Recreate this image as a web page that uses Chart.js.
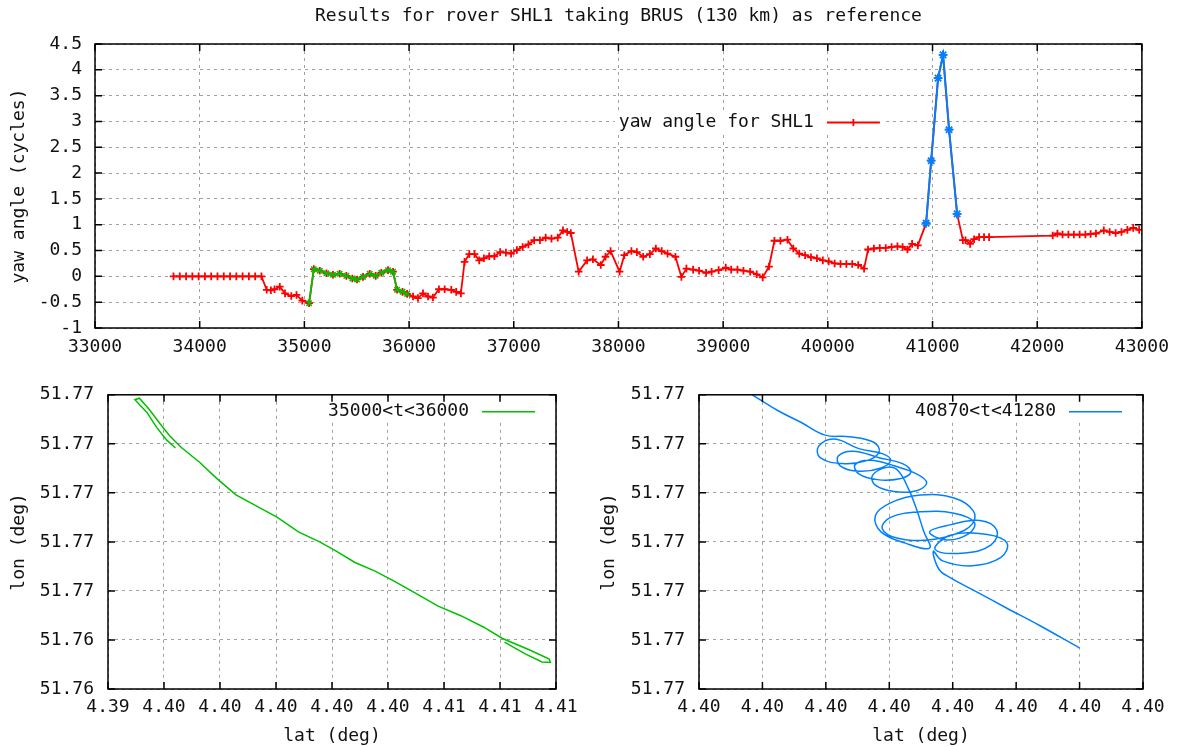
<!DOCTYPE html>
<html>
<head>
<meta charset="utf-8">
<title>yaw angle SHL1</title>
<script src="https://cdn.jsdelivr.net/npm/chart.js@4.4.1/dist/chart.umd.min.js"></script>
<style>
  html, body { margin: 0; padding: 0; background: #fff; }
  body { width: 1178px; height: 747px; position: relative; overflow: hidden; }
  canvas { position: absolute; }
  #yaw { left: 0; top: 0; }
  #trackA { left: 0; top: 370px; }
  #trackB { left: 590px; top: 370px; }
</style>
</head>
<body>
<canvas id="yaw" width="1178" height="370"></canvas>
<canvas id="trackA" width="590" height="377"></canvas>
<canvas id="trackB" width="588" height="377"></canvas>
<script>
// yaw angle of SHL1 (cycles) against time (s)
const yawTime = [
  33750, 33810, 33870, 33930, 33990, 34050, 34110, 34170, 34230, 34290, 34350, 34410, 34470, 34530, 34590,
  34640, 34680, 34715, 34765, 34815, 34875, 34925, 34980, 35045,
  35090, 35147, 35211, 35273, 35337, 35401, 35458, 35503, 35560, 35624, 35681, 35735, 35799, 35847, 35885, 35937, 35981,
  36038, 36085, 36133, 36181, 36228, 36285, 36340, 36403, 36450, 36495,
  36530, 36575, 36625, 36670, 36715, 36765, 36815, 36870, 36925, 36975, 37030, 37085, 37140, 37195, 37250, 37305, 37360, 37420, 37470, 37510, 37545,
  37620, 37700, 37756, 37831, 37876, 37925, 38011, 38056, 38124, 38176, 38236, 38300, 38357, 38413, 38469, 38544,
  38601, 38649, 38713, 38770, 38837, 38890, 38957, 39025, 39077, 39137, 39194, 39258, 39321, 39378, 39438,
  39490, 39547, 39614, 39670, 39727, 39783, 39839, 39896, 39952, 40008, 40065, 40121, 40177, 40233, 40290, 40346,
  40384, 40440, 40496, 40553, 40609, 40665, 40714, 40760, 40805, 40860,
  40939, 40987, 41053, 41101, 41158, 41235,
  41290, 41315, 41359, 41397, 41445, 41492, 41540,
  42148, 42193, 42242, 42298, 42350, 42405, 42460, 42510, 42561, 42636, 42692, 42749, 42805, 42861, 42917, 42974
];
const yawCycles = [
  0, 0, 0, 0, 0, 0, 0, 0, 0, 0, 0, 0, 0, 0, 0,
  -0.26, -0.27, -0.25, -0.20, -0.33, -0.38, -0.36, -0.47, -0.52,
  0.14, 0.11, 0.06, 0.03, 0.05, 0.01, -0.04, -0.06, -0.01, 0.05, 0.01, 0.07, 0.12, 0.09, -0.26, -0.30, -0.34,
  -0.39, -0.42, -0.33, -0.39, -0.41, -0.25, -0.25, -0.26, -0.30, -0.33,
  0.28, 0.43, 0.43, 0.31, 0.35, 0.39, 0.39, 0.47, 0.46, 0.44, 0.51, 0.57, 0.62, 0.70, 0.70, 0.75, 0.73, 0.75, 0.89, 0.86, 0.84,
  0.09, 0.31, 0.33, 0.22, 0.38, 0.49, 0.09, 0.41, 0.49, 0.47, 0.38, 0.43, 0.54, 0.49, 0.44, 0.38,
  -0.01, 0.15, 0.13, 0.11, 0.07, 0.09, 0.12, 0.17, 0.13, 0.13, 0.11, 0.09, 0.04, -0.02, 0.19,
  0.69, 0.69, 0.71, 0.54, 0.44, 0.41, 0.37, 0.35, 0.31, 0.29, 0.25, 0.24, 0.24, 0.24, 0.22, 0.15,
  0.52, 0.54, 0.55, 0.55, 0.57, 0.58, 0.57, 0.52, 0.63, 0.60,
  1.03, 2.24, 3.84, 4.29, 2.84, 1.21,
  0.70, 0.70, 0.63, 0.72, 0.76, 0.76, 0.76,
  0.79, 0.83, 0.81, 0.81, 0.81, 0.81, 0.81, 0.82, 0.83, 0.89, 0.86, 0.84, 0.86, 0.90, 0.94, 0.90
];

// time windows highlighted above and plotted below
const greenWindow = [35000, 36000];
const blueWindow = [40870, 41280];

// track for 35000<t<36000
const latA = [
  4.39641, 4.39609, 4.39573, 4.39539, 4.39496, 4.39512, 4.39549, 4.39586, 4.39620, 4.39661,
  4.39728, 4.39789, 4.39857, 4.39931, 4.40005, 4.40080, 4.40154, 4.40215, 4.40282, 4.40350,
  4.40417, 4.40498, 4.40579, 4.40660, 4.40742, 4.40809, 4.40904, 4.40976, 4.40980, 4.40950,
  4.40890, 4.40816
];
const lonA = [
  51.77183, 51.77216, 51.77268, 51.77328, 51.77380, 51.77386, 51.77338, 51.77282, 51.77233, 51.77186,
  51.77124, 51.77058, 51.76992, 51.76946, 51.76900, 51.76841, 51.76801, 51.76762, 51.76716, 51.76683,
  51.76643, 51.76591, 51.76538, 51.76499, 51.76452, 51.76406, 51.76360, 51.76322, 51.76308, 51.76310,
  51.76343, 51.76391
];

// track for 40870<t<41280
const latB = [
  4.399768, 4.399851, 4.399921, 4.399998, 4.400074, 4.400151, 4.400168, 4.400127, 4.400051, 4.399982, 4.399977, 4.400027,
  4.400104, 4.400180, 4.400204, 4.400174, 4.400104, 4.400045, 4.400039, 4.400086,
  4.400168, 4.400245, 4.400268, 4.400233, 4.400162, 4.400104, 4.400092, 4.400139,
  4.400215, 4.400286, 4.400318, 4.400286, 4.400215, 4.400156, 4.400147, 4.400192,
  4.400227, 4.400262, 4.400286, 4.400309, 4.400327,
  4.400251, 4.400174, 4.400156, 4.400204, 4.400298, 4.400404, 4.400465, 4.400462, 4.400404,
  4.400321, 4.400227, 4.400178, 4.400204, 4.400298, 4.400404, 4.400468, 4.400451, 4.400380,
  4.400327, 4.400392, 4.400486, 4.400539, 4.400521, 4.400439, 4.400345,
  4.400392, 4.400509, 4.400571, 4.400551, 4.400462, 4.400368, 4.400339,
  4.400356, 4.400392, 4.400474, 4.400568, 4.400674, 4.400800
];
const lonB = [
  51.770400, 51.770268, 51.770176, 51.770071, 51.770058, 51.770013, 51.769934, 51.769861, 51.769839, 51.769887, 51.769979, 51.770040,
  51.769961, 51.769918, 51.769866, 51.769803, 51.769776, 51.769821, 51.769900, 51.769940,
  51.769887, 51.769834, 51.769768, 51.769716, 51.769708, 51.769755, 51.769829, 51.769866,
  51.769821, 51.769755, 51.769682, 51.769618, 51.769611, 51.769663, 51.769742, 51.769808,
  51.769782, 51.769624, 51.769466, 51.769282, 51.769150,
  51.769190, 51.769282, 51.769413, 51.769518, 51.769582, 51.769558, 51.769453, 51.769347, 51.769260,
  51.769216, 51.769229, 51.769308, 51.769400, 51.769445, 51.769434, 51.769360, 51.769268, 51.769216,
  51.769282, 51.769339, 51.769374, 51.769295, 51.769176, 51.769110, 51.769137,
  51.769255, 51.769260, 51.769190, 51.769071, 51.769005, 51.769045, 51.769124,
  51.768979, 51.768908, 51.768795, 51.768663, 51.768518, 51.768334
];

const RED = '#ff0000', GREEN = '#00c000', BLUE = '#0080ff';
const FONT = "'DejaVu Sans Mono', monospace";

Chart.defaults.font.family = FONT;
Chart.defaults.font.size = 18;
Chart.defaults.color = '#111';
Chart.defaults.animation = false;

const toXY = (xs, ys) => xs.map((x, i) => ({ x: x, y: ys[i] }));
const yawPoints = toXY(yawTime, yawCycles);
const inWindow = (w) => yawPoints.filter(p => p.x > w[0] && p.x < w[1]);

// gnuplot style border with the tics pointing inwards on all four sides
const framePlugin = {
  id: 'frame',
  afterDraw(chart) {
    const { ctx, chartArea: a, scales } = chart;
    ctx.save();
    ctx.strokeStyle = '#000';
    ctx.lineWidth = 1.5;
    ctx.strokeRect(a.left, a.top, a.right - a.left, a.bottom - a.top);
    ctx.beginPath();
    scales.x.ticks.forEach(t => {
      const px = scales.x.getPixelForValue(t.value);
      ctx.moveTo(px, a.bottom); ctx.lineTo(px, a.bottom - 7);
      ctx.moveTo(px, a.top); ctx.lineTo(px, a.top + 7);
    });
    scales.y.ticks.forEach(t => {
      const py = scales.y.getPixelForValue(t.value);
      ctx.moveTo(a.left, py); ctx.lineTo(a.left + 7, py);
      ctx.moveTo(a.right, py); ctx.lineTo(a.right - 7, py);
    });
    ctx.stroke();
    ctx.restore();
  }
};

// key inside the plot: text, then a short sample of the line
const keyPlugin = {
  id: 'gkey',
  afterDatasetsDraw(chart, args, opts) {
    if (!opts.text) return;
    const { ctx, chartArea: a } = chart;
    const x1 = a.right - opts.right;
    const x0 = x1 - 53;
    const y = a.top + opts.top;
    ctx.save();
    ctx.font = '18px ' + FONT;
    const w = ctx.measureText(opts.text).width;
    const tx = x0 - 13;
    ctx.fillStyle = '#fff';
    ctx.fillRect(tx - w - 4, y - 10, w + 4 + 13 + 53 + 4, 20);
    ctx.fillStyle = '#111';
    ctx.textAlign = 'right';
    ctx.textBaseline = 'middle';
    ctx.fillText(opts.text, tx, y);
    ctx.strokeStyle = opts.color;
    ctx.lineWidth = opts.width || 1.5;
    ctx.beginPath();
    ctx.moveTo(x0, y); ctx.lineTo(x1, y);
    if (opts.marker) {
      const m = (x0 + x1) / 2;
      ctx.moveTo(m, y - 3.5); ctx.lineTo(m, y + 3.5);
    }
    ctx.stroke();
    ctx.restore();
  }
};

const grid = { color: '#a0a0a0', lineWidth: 1, drawTicks: false };
const border = { display: false, dash: [3, 4] };

function axisTitle(text) {
  return { display: true, text: text, font: { size: 18 }, padding: { top: 9, bottom: 0 } };
}

// top: yaw angle against time
new Chart(document.getElementById('yaw'), {
  type: 'scatter',
  data: {
    datasets: [
      {
        label: 'yaw angle for SHL1', data: yawPoints, showLine: true,
        borderColor: RED, backgroundColor: RED, borderWidth: 1.8,
        pointStyle: 'cross', pointRadius: 3.8, pointBorderWidth: 1.8, order: 2
      },
      {
        label: '35000<t<36000', data: inWindow(greenWindow), showLine: true,
        borderColor: GREEN, backgroundColor: GREEN, borderWidth: 1.8,
        pointStyle: 'crossRot', pointRadius: 3.8, pointBorderWidth: 1.6, order: 1
      },
      {
        label: '40870<t<41280', data: inWindow(blueWindow), showLine: true,
        borderColor: BLUE, backgroundColor: BLUE, borderWidth: 2,
        pointStyle: 'star', pointRadius: 4.5, pointBorderWidth: 1.8, order: 1
      }
    ]
  },
  options: {
    responsive: false,
    layout: { padding: { top: 0, right: 35, bottom: 0, left: 0 } },
    plugins: {
      legend: { display: false },
      tooltip: { enabled: false },
      title: {
        display: true, fullSize: false,
        text: 'Results for rover SHL1 taking BRUS (130 km) as reference',
        font: { size: 18, weight: 'normal' }, color: '#111',
        padding: { top: 6, bottom: 16.4 }
      },
      gkey: { text: 'yaw angle for SHL1', color: RED, marker: true, width: 1.8, right: 262, top: 78.5 }
    },
    scales: {
      x: {
        type: 'linear', min: 33000, max: 43000,
        ticks: { stepSize: 1000, padding: 9, autoSkip: false, maxRotation: 0, callback: v => String(v) },
        grid: grid, border: border,
        afterFit: s => { s.height = 42; }
      },
      y: {
        min: -1, max: 4.5,
        ticks: { stepSize: 0.5, padding: 13, autoSkip: false, callback: v => String(v) },
        grid: grid, border: border,
        title: axisTitle('yaw angle (cycles)'),
        afterFit: s => { s.width = 95; }
      }
    }
  },
  plugins: [keyPlugin, framePlugin]
});

// bottom: the two tracks in lat / lon
function trackChart(id, lat, lon, label, color, xr, yr, padRight, yWidth, tension) {
  return new Chart(document.getElementById(id), {
    type: 'scatter',
    data: {
      datasets: [{
        label: label, data: toXY(lat, lon), showLine: true,
        borderColor: color, borderWidth: 1.5, pointRadius: 0, tension: tension
      }]
    },
    options: {
      responsive: false,
      layout: { padding: { top: 15, right: padRight, bottom: 0, left: 0 } },
      plugins: {
        legend: { display: false },
        tooltip: { enabled: false },
        gkey: { text: label, color: color, marker: false, right: 21, top: 17 }
      },
      scales: {
        x: {
          type: 'linear', min: xr[0], max: xr[1],
          ticks: { stepSize: xr[2], padding: 8, autoSkip: false, maxRotation: 0, callback: v => v.toFixed(2) },
          grid: grid, border: border,
          title: { display: true, text: 'lat (deg)', font: { size: 18 }, padding: { top: 0, bottom: 0 } },
          afterFit: s => { s.height = 58; }
        },
        y: {
          min: yr[0], max: yr[1],
          ticks: { stepSize: yr[2], padding: 14, autoSkip: false, callback: v => v.toFixed(2) },
          grid: grid, border: border,
          title: axisTitle('lon (deg)'),
          afterFit: s => { s.width = yWidth; }
        }
      }
    },
    plugins: [keyPlugin, framePlugin]
  });
}

trackChart('trackA', latA, lonA, '35000<t<36000', GREEN,
  [4.394, 4.410, 0.002], [51.762, 51.774, 0.002], 34, 108, 0);
trackChart('trackB', latB, lonB, '40870<t<41280', BLUE,
  [4.3996, 4.4010, 0.0002], [51.7680, 51.7704, 0.0004], 35, 109, 0.4);
</script>
</body>
</html>
